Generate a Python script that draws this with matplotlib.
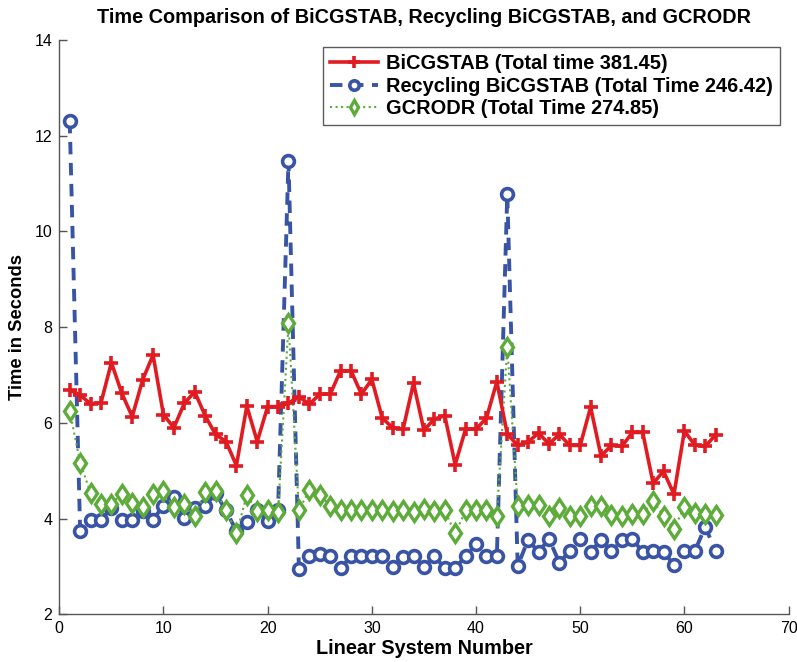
import matplotlib
matplotlib.use("Agg")
import matplotlib.pyplot as plt
import numpy as np

plt.rcParams['font.family'] = ['Liberation Sans', 'DejaVu Sans']

systems = list(range(1, 64))

bicgstab = [6.69, 6.58, 6.40, 6.42, 7.26, 6.62, 6.13, 6.90, 7.42, 6.17,
            5.90, 6.41, 6.65, 6.15, 5.76, 5.61, 5.11, 6.35, 5.61, 6.34,
            6.34, 6.41, 6.55, 6.39, 6.60, 6.60, 7.09, 7.09, 6.60, 6.91,
            6.10, 5.90, 5.87, 6.83, 5.85, 6.08, 6.15, 5.13, 5.87, 5.87,
            6.10, 6.86, 5.77, 5.53, 5.60, 5.79, 5.56, 5.76, 5.53, 5.53,
            6.33, 5.31, 5.53, 5.51, 5.80, 5.80, 4.74, 4.99, 4.51, 5.83,
            5.54, 5.51, 5.75]

recycling = [12.31, 3.74, 3.98, 3.98, 4.22, 3.98, 3.98, 4.15, 3.98, 4.27,
             4.46, 4.01, 4.22, 4.26, 4.53, 4.17, 3.74, 3.92, 4.17, 3.96,
             4.19, 11.48, 2.94, 3.21, 3.27, 3.21, 2.97, 3.21, 3.21, 3.21,
             3.21, 2.99, 3.20, 3.21, 2.99, 3.21, 2.97, 2.97, 3.21, 3.47,
             3.21, 3.21, 10.78, 3.01, 3.56, 3.30, 3.58, 3.08, 3.32, 3.58,
             3.30, 3.56, 3.32, 3.56, 3.58, 3.30, 3.32, 3.30, 3.04, 3.32,
             3.32, 3.83, 3.32]

gcrodr = [6.25, 5.17, 4.54, 4.31, 4.31, 4.52, 4.33, 4.24, 4.51, 4.57,
          4.24, 4.31, 4.05, 4.55, 4.57, 4.19, 3.69, 4.49, 4.15, 4.19,
          4.13, 8.08, 4.17, 4.60, 4.50, 4.27, 4.17, 4.19, 4.17, 4.17,
          4.19, 4.15, 4.19, 4.14, 4.20, 4.15, 4.17, 3.69, 4.17, 4.19,
          4.17, 4.06, 7.59, 4.26, 4.29, 4.29, 4.06, 4.22, 4.05, 4.06,
          4.26, 4.26, 4.08, 4.06, 4.10, 4.10, 4.36, 4.06, 3.79, 4.24,
          4.12, 4.10, 4.07]

labels = ['BiCGSTAB (Total time 381.45)',
          'Recycling BiCGSTAB (Total Time 246.42)',
          'GCRODR (Total Time 274.85)']

red = '#e01b22'
blue = '#3a54a5'
green = '#5dac3a'

fig = plt.figure(figsize=(7.97, 6.62), dpi=100)
ax = fig.add_axes([0.0744, 0.072, 0.915, 0.8675])

ax.plot(systems, bicgstab, '-', color=red, lw=2.6, marker='+', ms=10, mew=2.6,
        label=labels[0], zorder=3)
ax.plot(systems, recycling, '--', color=blue, lw=2.8, dashes=(3.2, 2.2),
        marker='o', ms=8.5, mew=2.6, mfc='white', mec=blue,
        label=labels[1], zorder=2)
ax.plot(systems, gcrodr, ':', color=green, lw=1.5, marker='d', ms=9.5, mew=2.4,
        mfc='white', mec=green, label=labels[2], zorder=2.5)

ax.set_xlim(0, 70)
ax.set_ylim(2, 14)
ax.set_xticks(np.arange(0, 71, 10))
ax.set_yticks(np.arange(2, 15, 2))

for s in ['top', 'right']:
    ax.spines[s].set_visible(False)
for s in ['left', 'bottom']:
    ax.spines[s].set_color('#555555')
    ax.spines[s].set_linewidth(1.0)
ax.tick_params(direction='in', length=6, width=1.0, color='#555555',
               labelsize=11.5, labelcolor='black', pad=5)

ax.set_title('Time Comparison of BiCGSTAB, Recycling BiCGSTAB, and GCRODR',
             fontsize=14.3, fontweight='bold', pad=12)
ax.set_xlabel('Linear System Number', fontsize=14.3, fontweight='bold', labelpad=2)
ax.set_ylabel('Time in Seconds', fontsize=13.2, fontweight='bold', labelpad=6)

leg = ax.legend(loc='upper right', bbox_to_anchor=(0.988, 0.988),
                prop={'weight': 'bold', 'size': 14.4}, frameon=True,
                fancybox=False, handlelength=2.4, handletextpad=0.4,
                borderpad=0.35, labelspacing=0.18, borderaxespad=0,
                markerscale=0.8)
leg.get_frame().set_edgecolor('#333333')
leg.get_frame().set_linewidth(1.0)

fig.savefig('out.png', dpi=100, facecolor='white')
